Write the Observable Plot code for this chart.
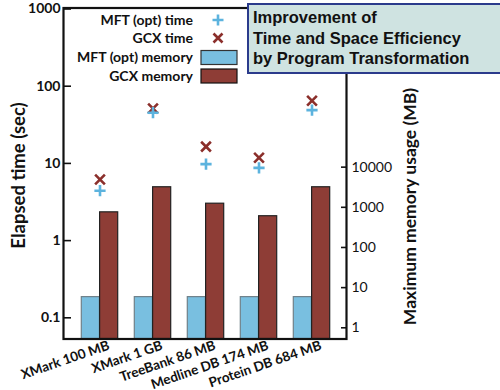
<!DOCTYPE html>
<html>
<head>
<meta charset="utf-8">
<script src="https://cdn.jsdelivr.net/npm/d3@7"></script>
<script src="https://cdn.jsdelivr.net/npm/@observablehq/plot@0.6"></script>
<style>
  body { margin: 0; background: white; }
  #wrap { position: relative; width: 500px; height: 390px; overflow: hidden; }
  #title {
    position: absolute; left: 247px; top: 3px; width: 247px; height: 65px;
    background: #cfe3e1; border: 2px solid #2b3b8c;
    font-family: "Liberation Sans", Arial, sans-serif; font-weight: bold;
    font-size: 16.5px; line-height: 20.5px; color: #111;
    padding: 2px 0 0 4px; box-sizing: content-box;
  }
  #legend { position: absolute; left: 0; top: 0; }
</style>
</head>
<body>
<div id="wrap"></div>
<script>
// ---- data ----
const categories = ["XMark 100 MB", "XMark 1 GB", "TreeBank 86 MB", "Medline DB 174 MB", "Protein DB 684 MB"];
const mftTime = [4.3, 44, 9.5, 8.5, 47.6];      // sec
const gcxTime = [6.0, 50, 16, 11.5, 63];        // sec
const mftMemory = [5.8, 5.8, 5.8, 5.8, 5.8];    // MB
const gcxMemory = [750, 3160, 1230, 600, 3160]; // MB
const timeTicks = [0.1, 1, 10, 100, 1000];
const memoryTicks = [1, 10, 100, 1000, 10000];
const seriesNames = ["MFT (opt) time", "GCX time", "MFT (opt) memory", "GCX memory"];
const titleLines = ["Improvement of", "Time and Space Efficiency", "by Program Transformation"];

// The y scale is linear in log10(seconds). The memory axis is aligned so that
// 1 MB sits at 0.0721 s and 10000 MB at 8.68 s.
const timeA = 0.0721, timeB = 8.68, memA = 1, memB = 10000;
const slope = Math.log10(timeB / timeA) / Math.log10(memB / memA);
const timePos = t => Math.log10(t);
const memPos = m => Math.log10(timeA) + slope * Math.log10(m / memA);
const yMin = 0.0516, yMax = 1000;

const rows = categories.map((c, i) => ({
  cat: c, mftTime: mftTime[i], gcxTime: gcxTime[i], mftMem: mftMemory[i], gcxMem: gcxMemory[i]
}));

const blueFill = "#79bfe0", blueMark = "#5cb3de";
const redFill = "#8e3d36", redMark = "#8b2f2b";

const labelFor = (ticks, pos) => d => {
  const i = ticks.findIndex(t => Math.abs(pos(t) - d) < 1e-6);
  return i < 0 ? "" : String(ticks[i]);
};

const chart = Plot.plot({
  width: 500, height: 390,
  marginTop: 7.5, marginBottom: 51.5, marginLeft: 63, marginRight: 154,
  style: { fontFamily: "Lato, sans-serif", background: "white", color: "#111" },
  x: { type: "band", domain: categories, padding: 0, insetLeft: 9.4, insetRight: 7.7 },
  y: { type: "linear", domain: [timePos(yMin), timePos(yMax)] },
  marks: [
    Plot.barY(rows, { x: "cat", y1: timePos(yMin), y2: d => memPos(d.mftMem), fill: blueFill, stroke: "#6f8089", strokeWidth: 1.2, insetLeft: 8.3, insetRight: 26.6 }),
    Plot.barY(rows, { x: "cat", y1: timePos(yMin), y2: d => memPos(d.gcxMem), fill: redFill, stroke: "#222", strokeWidth: 1.2, insetLeft: 26.6, insetRight: 8.3 }),
    Plot.dot(rows, { x: "cat", y: d => timePos(d.gcxTime), symbol: "times", stroke: redMark, r: 4.5, strokeWidth: 2.6 }),
    Plot.dot(rows, { x: "cat", y: d => timePos(d.mftTime), symbol: "plus", stroke: blueMark, r: 3.7, strokeWidth: 2.6 }),
    Plot.axisY({ ticks: timeTicks.map(timePos), tickFormat: labelFor(timeTicks, timePos), tickSize: -8, tickPadding: 11, fontSize: 14, fontWeight: "bold", label: null, strokeWidth: 1.6, dy: 1 }),
    Plot.axisY({ anchor: "right", ticks: memoryTicks.map(memPos), tickFormat: labelFor(memoryTicks, memPos), tickSize: -6, tickPadding: 11, fontSize: 14, label: null, strokeWidth: 1.6 }),
    Plot.axisX({ tickRotate: -19, tickSize: 0, tickPadding: 6, textAnchor: "end", fontSize: 13.5, fontWeight: "bold", label: null, dx: 9 }),
    Plot.frame({ stroke: "#111", strokeWidth: 2.2 }),
    Plot.text(["Elapsed time (sec)"], { frameAnchor: "left", textAnchor: "middle", dx: -44.5, dy: 2, rotate: -90, fontSize: 18.5, fontWeight: "bold", fill: "#111" }),
    Plot.text(["Maximum memory usage (MB)"], { frameAnchor: "right", textAnchor: "middle", dx: 64, dy: 33, rotate: -90, fontSize: 17.5, fontWeight: "bold", fill: "#111" })
  ]
});

const wrap = document.getElementById("wrap");
wrap.appendChild(chart);

// legend (inside plot area, top-left)
const lg = d3.select(wrap).append("svg").attr("id", "legend").attr("width", 260).attr("height", 100)
  .style("font-family", "Lato, sans-serif");
const rowY = [20, 38, 57, 76];
seriesNames.forEach((name, i) => {
  lg.append("text").attr("x", 193).attr("y", rowY[i]).attr("text-anchor", "end").attr("dy", "0.35em")
    .attr("font-size", 14).attr("font-weight", "bold").attr("fill", "#111").text(name);
});
lg.append("path").attr("d", "M212.5,20H223.5M218,14.5V25.5").attr("stroke", blueMark).attr("stroke-width", 2.6).attr("fill", "none");
lg.append("path").attr("d", "M213.5,33.5L222.5,42.5M213.5,42.5L222.5,33.5").attr("stroke", redMark).attr("stroke-width", 2.6).attr("fill", "none");
lg.append("rect").attr("x", 201).attr("y", 50.5).attr("width", 36).attr("height", 14).attr("fill", blueFill).attr("stroke", "#333").attr("stroke-width", 1.2);
lg.append("rect").attr("x", 201).attr("y", 69).attr("width", 36).attr("height", 14).attr("fill", redFill).attr("stroke", "#111").attr("stroke-width", 1.2);

// title box
const tb = d3.select(wrap).append("div").attr("id", "title");
titleLines.forEach(t => tb.append("div").text(t));
</script>
</body>
</html>
